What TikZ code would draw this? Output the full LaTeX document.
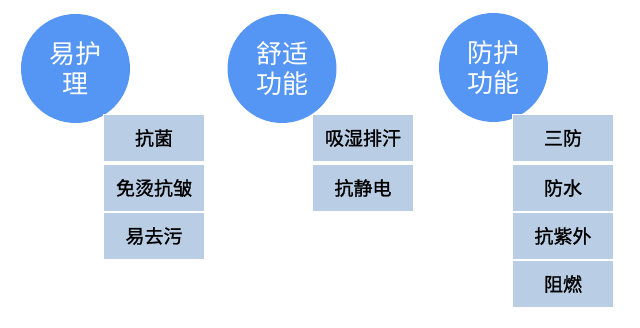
\documentclass[tikz,border=0pt]{standalone}
\usepackage{fontspec}
\setmainfont{Noto Sans CJK SC}
\newfontfamily\cjk{Noto Sans CJK SC}
\newfontfamily\cjkbold[FakeBold=1.2]{Noto Sans CJK SC}
\definecolor{circblue}{RGB}{85,150,245}
\definecolor{boxblue}{RGB}{185,205,229}
\begin{document}
\begin{tikzpicture}[x=1pt,y=-1pt,
  circ/.style={circle,fill=circblue,minimum size=109pt,inner sep=0pt,text=white,
    font=\cjk\fontsize{26}{30}\selectfont,align=center},
  itembox/.style={rectangle,fill=boxblue,draw=white,line width=1.2pt,minimum width=101pt,
    minimum height=47pt,inner sep=0pt,text=black,font=\cjkbold\fontsize{19}{22}\selectfont}]
\useasboundingbox[fill=white] (0,0) rectangle (640,328);
% circles
\node[circ] (c1) at (75.5,68.5) {易护\\理};
\node[circ] (c2) at (282,68.5) {舒适\\功能};
\node[circ] (c3) at (493.5,67.5) {防护\\功能};
% column 1
\node[itembox] (a1) at (154,138) {抗菌};
\node[itembox] (a2) at (154,188) {免烫抗皱};
\node[itembox] (a3) at (154,236) {易去污};
% column 2
\node[itembox] (b1) at (363,138) {吸湿排汗};
\node[itembox] (b2) at (363,188) {抗静电};
% column 3
\node[itembox] (d1) at (563,138) {三防};
\node[itembox] (d2) at (563,188) {防水};
\node[itembox] (d3) at (563,236) {抗紫外};
\node[itembox] (d4) at (563,284) {阻燃};
\end{tikzpicture}
\end{document}
